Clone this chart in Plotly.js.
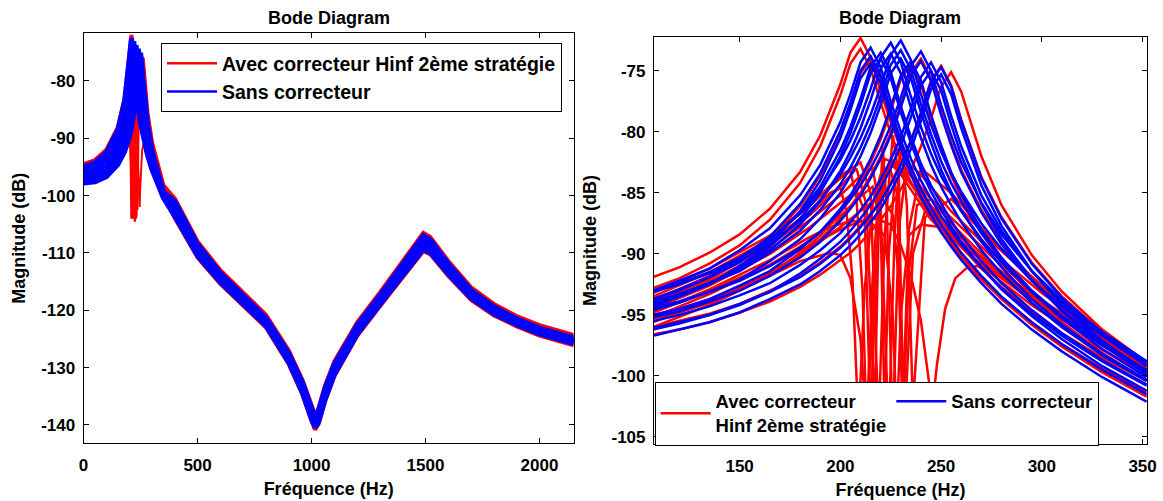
<!DOCTYPE html>
<html>
<head>
<meta charset="utf-8">
<script src="https://cdn.plot.ly/plotly-3.0.1.min.js"></script>
<style>html,body{margin:0;padding:0;background:#fff;}#chart{width:1163px;height:501px;}</style>
</head>
<body>
<div id="chart"></div>
<script>
// ---------- LEFT PLOT DATA (0 - 2150 Hz) ----------
const F_L = [0,50,100,150,180,190,200,210,220,230,240,250,260,270,280,300,350,400,450,500,600,700,800,900,960,1000,1015,1030,1060,1100,1200,1300,1400,1450,1490,1520,1560,1600,1700,1800,1900,2000,2150];
const LB1 = [-95.0,-94.3,-92.5,-88.6,-83.5,-80.5,-76.3,-72.5,-76.9,-81.6,-84.9,-87.5,-89.6,-91.4,-92.9,-95.5,-100.4,-103.6,-107.1,-110.5,-115.1,-118.9,-122.7,-129.1,-134.4,-139.0,-140.4,-139.6,-135.5,-131.2,-124.2,-119.0,-114.0,-111.3,-109.4,-109.9,-111.8,-113.7,-117.9,-120.6,-122.5,-124.1,-125.8];
const LB2 = [-95.7,-95.2,-93.6,-90.3,-86.2,-84.1,-81.1,-76.9,-73.1,-77.5,-82.2,-85.5,-88.1,-90.2,-92.0,-94.9,-100.2,-103.0,-106.6,-110.0,-114.7,-118.6,-122.4,-128.7,-134.0,-138.5,-140.0,-139.1,-135.0,-130.8,-123.8,-118.6,-113.5,-110.8,-108.8,-109.4,-111.3,-113.3,-117.6,-120.3,-122.3,-123.9,-125.6];
const LB3 = [-96.4,-96.0,-94.7,-91.9,-88.6,-86.9,-84.8,-81.8,-77.6,-73.8,-78.2,-82.9,-86.2,-88.8,-90.9,-94.2,-100.0,-102.3,-106.0,-109.5,-114.3,-118.2,-122.0,-128.3,-133.5,-138.0,-139.6,-138.6,-134.5,-130.3,-123.4,-118.2,-113.0,-110.2,-108.2,-108.8,-110.8,-112.8,-117.2,-120.0,-122.0,-123.6,-125.3];
const LB4 = [-97.1,-96.8,-95.7,-93.2,-90.5,-89.2,-87.5,-85.4,-82.4,-78.2,-74.4,-78.8,-83.5,-86.8,-89.4,-93.3,-99.6,-101.7,-105.5,-109.0,-113.9,-117.9,-121.7,-127.9,-133.1,-137.5,-139.2,-138.1,-134.0,-129.9,-123.0,-117.8,-112.5,-109.7,-107.6,-108.3,-110.3,-112.4,-116.9,-119.7,-121.8,-123.4,-125.1];
const LB5 = [-97.8,-97.6,-96.7,-94.6,-92.3,-91.2,-89.9,-88.2,-86.1,-83.1,-78.9,-75.1,-79.5,-84.2,-87.5,-92.2,-99.3,-101.0,-104.9,-108.5,-113.5,-117.5,-121.3,-127.5,-132.6,-137.0,-138.8,-137.6,-133.5,-129.4,-122.6,-117.4,-112.0,-109.1,-107.0,-107.7,-109.8,-111.9,-116.5,-119.4,-121.5,-123.1,-124.8];
const LR1 = [-94.5,-93.8,-92.0,-88.1,-83.0,-80.0,-75.8,-72.0,-76.4,-81.1,-84.4,-87.0,-89.1,-90.9,-92.4,-95.0,-99.9,-103.9,-107.4,-110.8,-115.4,-119.2,-123.0,-129.4,-134.7,-139.3,-140.8,-139.9,-135.8,-131.5,-124.5,-119.3,-114.3,-111.6,-109.7,-110.2,-112.1,-114.0,-118.2,-120.9,-122.8,-124.4,-126.1];
const LR2 = [-97.3,-97.1,-96.3,-94.3,-92.2,-91.2,-90.0,-88.6,-86.7,-84.2,-80.7,-75.8,-76.2,-81.5,-85.5,-90.7,-98.2,-100.5,-104.4,-108.0,-113.0,-117.0,-120.8,-127.0,-132.1,-136.5,-138.3,-137.1,-133.0,-128.9,-122.1,-116.9,-111.5,-108.6,-106.5,-107.2,-109.3,-111.4,-116.0,-118.9,-121.0,-122.6,-124.3];

// ---------- RIGHT PLOT DATA (107 - 352 Hz) ----------
const F_R = [107,120,135,150,165,180,190,200,205,210,215,220,225,230,235,240,245,250,255,260,270,280,295,310,330,352];
const BLUE_R = [
 [-93.0,-92.2,-91.2,-89.7,-87.9,-85.2,-82.7,-79.2,-76.9,-74.3,-73.1,-74.7,-77.5,-80.0,-82.2,-84.0,-85.5,-86.9,-88.1,-89.2,-91.1,-92.8,-94.9,-96.7,-98.8,-100.8],
 [-93.7,-92.9,-91.9,-90.4,-88.6,-85.9,-83.4,-79.9,-77.6,-75.0,-73.8,-75.4,-78.2,-80.7,-82.9,-84.7,-86.2,-87.6,-88.8,-89.9,-91.8,-93.5,-95.6,-97.4,-99.5,-101.5],
 [-94.3,-93.5,-92.5,-91.0,-89.2,-86.5,-84.0,-80.5,-78.2,-75.6,-74.4,-76.0,-78.8,-81.3,-83.5,-85.3,-86.8,-88.2,-89.4,-90.5,-92.4,-94.1,-96.2,-98.0,-100.1,-102.1],
 [-93.7,-93.0,-91.9,-90.7,-88.9,-86.6,-84.5,-81.5,-79.6,-77.3,-74.7,-73.5,-75.1,-77.9,-80.4,-82.6,-84.4,-85.9,-87.3,-88.5,-90.6,-92.4,-94.6,-96.5,-98.7,-100.7],
 [-94.2,-93.5,-92.4,-91.2,-89.4,-87.1,-85.0,-82.0,-80.1,-77.8,-75.2,-74.0,-75.6,-78.4,-80.9,-83.1,-84.9,-86.4,-87.8,-89.0,-91.1,-92.9,-95.1,-97.0,-99.2,-101.2],
 [-93.1,-92.4,-91.5,-90.3,-88.8,-86.7,-84.8,-82.3,-80.7,-78.8,-76.5,-73.9,-72.7,-74.3,-77.1,-79.6,-81.8,-83.6,-85.1,-86.5,-88.8,-90.7,-93.1,-95.1,-97.4,-99.5],
 [-94.0,-93.3,-92.4,-91.2,-89.7,-87.6,-85.7,-83.2,-81.6,-79.7,-77.4,-74.8,-73.6,-75.2,-78.0,-80.5,-82.7,-84.5,-86.0,-87.4,-89.7,-91.6,-94.0,-96.0,-98.3,-100.4],
 [-93.1,-92.5,-91.6,-90.6,-89.1,-87.3,-85.6,-83.5,-82.1,-80.5,-78.6,-76.3,-73.7,-72.5,-74.1,-76.9,-79.4,-81.6,-83.4,-84.9,-87.5,-89.6,-92.2,-94.3,-96.7,-98.8],
 [-93.9,-93.3,-92.4,-91.4,-89.9,-88.1,-86.4,-84.3,-82.9,-81.3,-79.4,-77.1,-74.5,-73.3,-74.9,-77.7,-80.2,-82.4,-84.2,-85.7,-88.3,-90.4,-93.0,-95.1,-97.5,-99.6],
 [-94.6,-94.0,-93.1,-92.1,-90.6,-88.8,-87.1,-85.0,-83.6,-82.0,-80.1,-77.8,-75.2,-74.0,-75.6,-78.4,-80.9,-83.1,-84.9,-86.4,-89.0,-91.1,-93.7,-95.8,-98.2,-100.3],
 [-95.0,-94.5,-93.7,-92.6,-91.4,-89.6,-88.2,-86.3,-85.2,-83.8,-82.2,-80.3,-78.0,-75.4,-74.2,-75.8,-78.6,-81.1,-83.3,-85.1,-88.0,-90.3,-93.1,-95.3,-97.8,-100.1],
 [-94.4,-93.9,-93.1,-92.2,-91.0,-89.5,-88.2,-86.5,-85.5,-84.4,-83.0,-81.4,-79.5,-77.2,-74.6,-73.4,-75.0,-77.8,-80.3,-82.5,-85.8,-88.4,-91.4,-93.8,-96.4,-98.8],
 [-95.2,-94.7,-93.9,-93.0,-91.8,-90.3,-89.0,-87.3,-86.3,-85.2,-83.8,-82.2,-80.3,-78.0,-75.4,-74.2,-75.8,-78.6,-81.1,-83.3,-86.6,-89.2,-92.2,-94.6,-97.2,-99.6],
 [-95.5,-95.0,-94.3,-93.4,-92.4,-90.9,-89.7,-88.3,-87.4,-86.4,-85.3,-83.9,-82.3,-80.4,-78.1,-75.5,-74.3,-75.9,-78.7,-81.2,-85.2,-88.1,-91.4,-94.0,-96.7,-99.2],
 [-96.2,-95.7,-95.0,-94.1,-93.1,-91.6,-90.4,-89.0,-88.1,-87.1,-86.0,-84.6,-83.0,-81.1,-78.8,-76.2,-75.0,-76.6,-79.4,-81.9,-85.9,-88.8,-92.1,-94.7,-97.4,-99.9],
 [-96.1,-95.6,-95.0,-94.2,-93.1,-91.9,-90.8,-89.5,-88.7,-87.8,-86.8,-85.7,-84.3,-82.7,-80.8,-78.5,-75.9,-74.7,-76.3,-79.1,-83.8,-87.1,-90.8,-93.6,-96.5,-99.1],
 [-96.7,-96.2,-95.6,-94.8,-93.7,-92.5,-91.4,-90.1,-89.3,-88.4,-87.4,-86.3,-84.9,-83.3,-81.4,-79.1,-76.5,-75.3,-76.9,-79.7,-84.4,-87.7,-91.4,-94.2,-97.1,-99.7]
];
const RED_R = [
 [-91.9,-91.1,-89.9,-88.4,-86.3,-83.3,-80.3,-76.1,-73.5,-72.3,-73.9,-76.7,-79.2,-81.4,-83.2,-84.7,-86.1,-87.3,-88.4,-89.4,-91.2,-92.7,-94.7,-96.5,-98.5,-100.4],
 [-93.9,-93.1,-92.1,-90.6,-88.8,-86.1,-83.6,-80.1,-77.8,-75.2,-74.0,-75.6,-78.4,-80.9,-83.1,-84.9,-86.4,-87.8,-89.0,-90.1,-92.0,-93.7,-95.8,-97.6,-99.7,-101.7],
 [-92.8,-92.0,-90.8,-89.3,-87.2,-84.2,-81.2,-77.0,-74.4,-73.2,-74.8,-77.6,-80.1,-82.3,-84.1,-85.6,-87.0,-88.2,-89.3,-90.3,-92.1,-93.6,-95.6,-97.4,-99.4,-101.3],
 [-95.3,-94.8,-94.0,-92.9,-91.7,-89.9,-88.5,-86.6,-85.5,-84.1,-82.5,-80.6,-78.3,-75.7,-74.5,-76.1,-78.9,-81.4,-83.6,-85.4,-88.3,-90.6,-93.4,-95.6,-98.1,-100.4],
 [-96.0,-95.5,-94.9,-94.1,-93.0,-91.8,-90.7,-89.4,-88.6,-87.7,-86.7,-85.6,-84.2,-82.6,-80.7,-78.4,-75.8,-74.6,-76.2,-79.0,-83.7,-87.0,-90.7,-93.5,-96.4,-99.0],
 [-96.6,-96.2,-95.6,-94.8,-93.9,-92.7,-91.7,-90.5,-89.9,-89.1,-88.2,-87.2,-86.1,-84.7,-83.1,-81.2,-78.9,-76.3,-75.1,-76.7,-82.0,-86.0,-90.1,-93.1,-96.2,-98.9],
 [-95.0,-94.5,-93.7,-92.8,-91.6,-90.1,-88.8,-87.1,-86.1,-85.0,-83.6,-82.0,-80.1,-77.8,-75.2,-74.0,-75.6,-78.4,-80.9,-83.1,-86.4,-89.0,-92.0,-94.4,-97.0,-99.4]
];
// red responses with notches (drawn in both plots)
const N1_X = [107,135,165,185,200,205,208,211,213,216,219,222,226,232,245,265,290,320,352];
const N1_Y = [-93.5,-91.5,-88.8,-86.0,-83.8,-83.2,-85.5,-93.0,-104.0,-92.0,-85.0,-82.2,-82.5,-84.0,-87.2,-90.2,-93.2,-96.3,-99.6];
const N2_X = [107,135,165,185,200,208,213,217,219,221,223,226,229,233,240,255,275,300,330,352];
const N2_Y = [-94.0,-92.0,-89.3,-86.8,-84.5,-83.0,-86.0,-103.0,-88.0,-81.2,-86.0,-104.5,-88.0,-82.5,-83.5,-86.5,-89.8,-93.2,-96.8,-99.2];
const N3_X = [107,135,165,185,200,210,216,220,224,227,230,233,236,242,255,275,300,330,352];
const N3_Y = [-94.3,-92.3,-89.6,-87.2,-85.2,-83.6,-83.0,-86.5,-104.5,-88.0,-80.5,-86.0,-102.5,-87.0,-85.5,-89.0,-92.8,-96.5,-99.0];
const N4_X = [107,135,165,185,195,205,215,222,226,228,230,234,240,250,265,285,310,352];
const N4_Y = [-94.8,-92.9,-90.5,-88.6,-87.8,-87.3,-87.4,-88.5,-95.0,-104.0,-95.0,-88.5,-87.6,-87.8,-89.6,-92.2,-95.0,-99.5];
const N5_X = [107,135,165,185,200,210,218,225,230,235,240,244,246,248,252,257,263,268,280,300,330,352];
const N5_Y = [-94.8,-93.0,-90.9,-89.3,-88.0,-87.3,-87.1,-87.6,-89.3,-91.8,-95.5,-100.5,-102.0,-99.0,-94.5,-92.0,-91.1,-91.0,-91.8,-94.3,-97.5,-99.8];
const N6_X = [107,135,160,180,195,200,205,210,213,217,220,224,228,232,236,242,255,275,300,330,352];
const N6_Y = [-96.0,-94.2,-92.2,-90.6,-89.9,-90.1,-92.0,-97.0,-104.0,-92.0,-86.0,-82.6,-85.0,-103.5,-90.0,-86.5,-88.5,-91.2,-94.2,-97.3,-99.6];
const N7_X = [107,135,165,185,200,210,215,219,222,226,229,231,234,240,255,275,300,330,352];
const N7_Y = [-93.2,-91.2,-88.5,-86.0,-83.6,-82.5,-85.0,-104.0,-88.5,-80.3,-83.5,-102.5,-88.0,-83.0,-85.0,-88.8,-92.6,-96.2,-98.9];
const N8_X = [107,135,165,185,195,200,203,206,209,212,216,220,226,235,250,270,295,325,352];
const N8_Y = [-93.8,-91.8,-89.0,-86.5,-85.0,-84.6,-86.5,-92.0,-104.0,-93.0,-86.0,-83.5,-82.8,-84.2,-87.0,-90.3,-93.5,-96.8,-99.5];
const N9_X = [107,135,165,185,200,208,212,215,218,221,225,230,238,250,270,295,325,352];
const N9_Y = [-94.5,-92.6,-90.0,-87.8,-85.8,-84.8,-86.5,-103.5,-90.0,-84.0,-82.2,-83.0,-85.0,-87.8,-91.0,-94.2,-97.4,-99.8];
const N10_X = [107,135,165,185,200,210,216,220,222,224,227,232,240,255,275,300,330,352];
const N10_Y = [-95.2,-93.3,-90.9,-88.9,-86.9,-85.3,-84.5,-87.5,-103.0,-90.0,-84.0,-83.0,-84.5,-87.5,-90.8,-94.0,-97.3,-99.7];
const N11_X = [107,135,165,185,200,212,220,226,229,231,234,238,245,258,275,300,330,352];
const N11_Y = [-95.6,-93.8,-91.5,-89.6,-87.8,-86.2,-85.2,-86.8,-92.0,-104.0,-91.5,-86.0,-85.5,-87.5,-90.2,-93.8,-97.0,-99.6];

// ---------- TICKS / LABELS ----------
const XT_L = [0,500,1000,1500,2000];
const XT_L_TEXT = ['0','500','1000','1500','2000'];
const YT_L = [-140,-130,-120,-110,-100,-90,-80];
const YT_L_TEXT = ['-140','-130','-120','-110','-100','-90','-80'];
const XT_R = [150,200,250,300,350];
const XT_R_TEXT = ['150','200','250','300','350'];
const YT_R = [-105,-100,-95,-90,-85,-80,-75];
const YT_R_TEXT = ['-105','-100','-95','-90','-85','-80','-75'];
const TITLE = 'Bode Diagram';
const XLABEL = 'Fréquence (Hz)';
const YLABEL = 'Magnitude (dB)';
const NAME_RED = 'Avec correcteur Hinf 2ème stratégie';
const NAME_RED_2 = 'Avec correcteur<br>Hinf 2ème stratégie';
const NAME_BLUE = 'Sans correcteur';

const RED = '#ff0000', BLUE = '#0000ff';
const FONT = 'Liberation Sans, Arial, sans-serif';

function ln(x, y, color, width, xa, ya, extra) {
  return Object.assign({type:'scatter', mode:'lines', x:x, y:y, xaxis:xa, yaxis:ya,
    line:{color:color, width:width}, showlegend:false, hoverinfo:'skip'}, extra||{});
}
const NOTCH = [[N1_X,N1_Y],[N2_X,N2_Y],[N3_X,N3_Y],[N4_X,N4_Y],[N5_X,N5_Y],[N6_X,N6_Y],[N7_X,N7_Y],[N8_X,N8_Y],[N9_X,N9_Y],[N10_X,N10_Y],[N11_X,N11_Y]];

const traces = [];
// left plot: red first, then blue on top
traces.push(ln(F_L, LR1, RED, 4, 'x', 'y'));
traces.push(ln(F_L, LR2, RED, 4, 'x', 'y'));
NOTCH.forEach(n => traces.push(ln(n[0], n[1], RED, 2, 'x', 'y')));
[LB1,LB2,LB3,LB4,LB5].forEach(v => traces.push(ln(F_L, v, BLUE, 5, 'x', 'y')));
// right plot
RED_R.forEach((v,i) => {
  let extra = {};
  if (i===0) extra = {showlegend:true, name:NAME_RED, legend:'legend'};
  if (i===1) extra = {showlegend:true, name:NAME_RED_2, legend:'legend2'};
  traces.push(ln(F_R, v, RED, 2.5, 'x2', 'y2', extra));
});
NOTCH.forEach(n => traces.push(ln(n[0], n[1], RED, 2.5, 'x2', 'y2')));
BLUE_R.forEach((v,i) => {
  let extra = {};
  if (i===0) extra = {showlegend:true, name:NAME_BLUE, legend:'legend'};
  if (i===1) extra = {showlegend:true, name:NAME_BLUE, legend:'legend2'};
  traces.push(ln(F_R, v, BLUE, 2.5, 'x2', 'y2', extra));
});

const W = 1163, H = 501;
const tickFont = {family:FONT, size:17, color:'#000', weight:'bold'};
const labFont = {family:FONT, size:18, color:'#000', weight:'bold'};
function ax(extra) {
  return Object.assign({showline:true, mirror:'ticks', linecolor:'#000', linewidth:1,
    ticks:'inside', ticklen:5, tickcolor:'#000', tickwidth:1, showgrid:false, zeroline:false,
    tickmode:'array', tickfont:tickFont, fixedrange:true}, extra);
}
const layout = {
  width:W, height:H, margin:{l:0,r:0,t:0,b:0,pad:0},
  paper_bgcolor:'#fff', plot_bgcolor:'#fff', font:{family:FONT, color:'#000'},
  xaxis: ax({domain:[83.6/W, 573.7/W], range:[0,2150], anchor:'y', tickvals:XT_L, ticktext:XT_L_TEXT,
     ticklabelstandoff:6, title:{text:XLABEL, font:labFont, standoff:8}}),
  yaxis: ax({domain:[1-443.3/H, 1-33.3/H], range:[-143.2,-71.7], anchor:'x', tickvals:YT_L, ticktext:YT_L_TEXT,
     ticklabelstandoff:4, title:{text:YLABEL, font:labFont, standoff:10}}),
  xaxis2: ax({domain:[653.9/W, 1147/W], range:[107.45,352.2], anchor:'y2', tickvals:XT_R, ticktext:XT_R_TEXT,
     ticklabelstandoff:6, title:{text:XLABEL, font:labFont, standoff:8}}),
  yaxis2: ax({domain:[1-444.3/H, 1-36.7/H], range:[-105.6,-72.2], anchor:'x2', tickvals:YT_R, ticktext:YT_R_TEXT,
     ticklabelstandoff:4, title:{text:YLABEL, font:labFont, standoff:10}}),
  legend: {x:161/W, y:1-43/H, xanchor:'left', yanchor:'top', bgcolor:'#fff', bordercolor:'#000', borderwidth:1,
     font:{family:FONT, size:19.5, color:'#000', weight:'bold'}, itemwidth:50, traceorder:'normal'},
  legend2: {x:654.6/W, y:1-381.7/H, xanchor:'left', yanchor:'top', orientation:'h', bgcolor:'#fff', bordercolor:'#000', borderwidth:1,
     font:{family:FONT, size:18.5, color:'#000', weight:'bold'}, itemwidth:50, traceorder:'normal'},
  annotations: [
    {text:TITLE, xref:'paper', yref:'paper', x:(83.6+573.7)/2/W, y:1-18/H, xanchor:'center', yanchor:'middle', showarrow:false, font:{family:FONT, size:18, color:'#000', weight:'bold'}},
    {text:TITLE, xref:'paper', yref:'paper', x:(653.9+1147)/2/W, y:1-18/H, xanchor:'center', yanchor:'middle', showarrow:false, font:{family:FONT, size:18, color:'#000', weight:'bold'}}
  ],
  showlegend:true
};
Plotly.newPlot('chart', traces, layout, {displayModeBar:false, staticPlot:true});
</script>
</body>
</html>
